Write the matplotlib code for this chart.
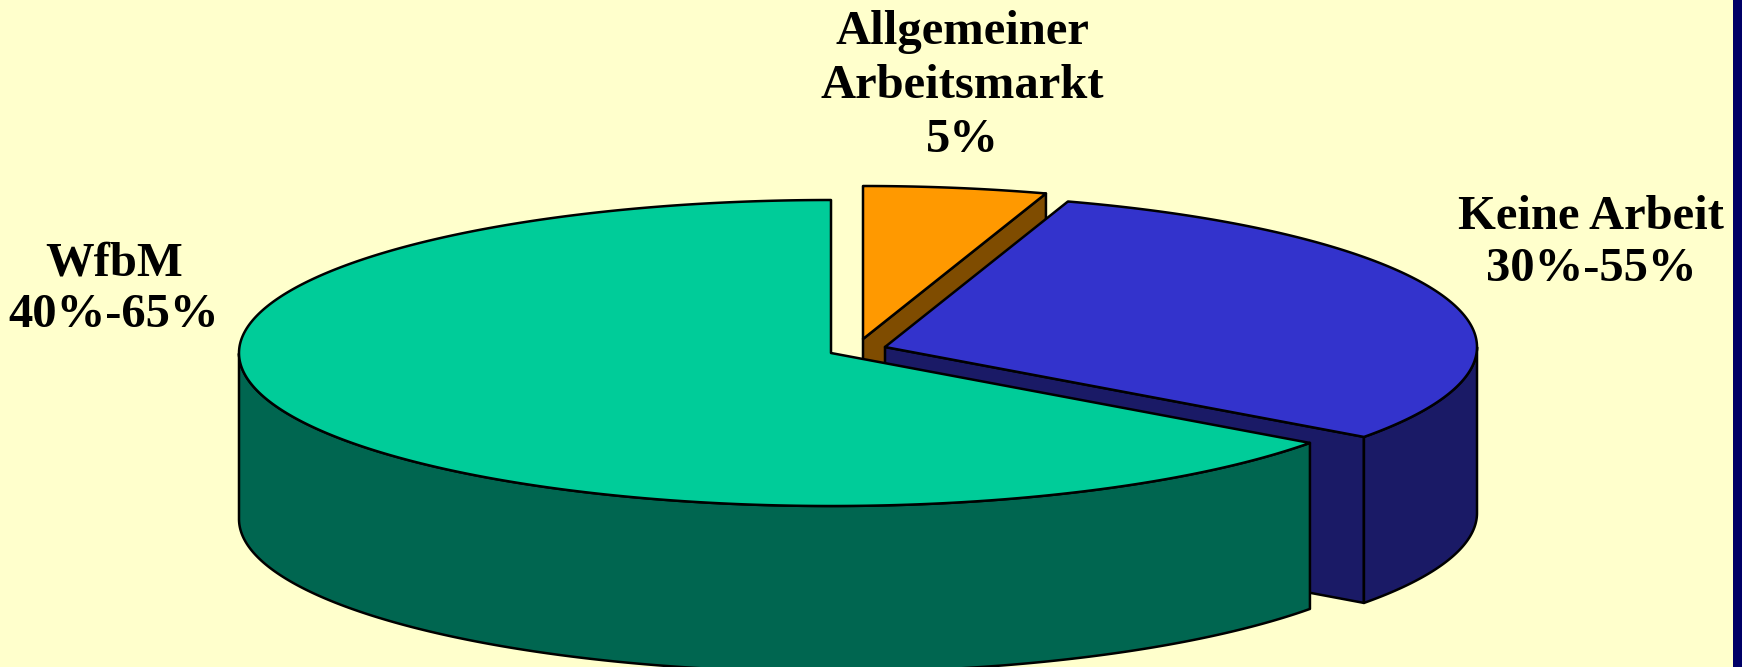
import numpy as np
import matplotlib
matplotlib.use("Agg")
import matplotlib.pyplot as plt
from matplotlib.patches import Polygon, Rectangle

# ---- data ----
labels = ["WfbM\n40%-65%", "Keine Arbeit\n30%-55%", "Allgemeiner\nArbeitsmarkt\n5%"]
shares = [65, 30, 5]          # slice sizes drawn (percent of circle)

# ---- style / layout ----
top_colors = ["#00CC99", "#3333CC", "#FF9900"]
side_colors = ["#006650", "#1A1A66", "#7F4C00"]
explode_px = [(0, 0), (54, -6), (32, -14)]   # screen offset of each slice
label_pos = [(114, 289), (1591, 243), (962, 86)]
label_ls = [1.22, 1.25, 1.3]
start_angle = 90.0
cx, cy = 831, 353
rx, ry = 592, 153
depth = 166
W, H = 1742, 667

fig = plt.figure(figsize=(W / 100, H / 100), dpi=100)
fig.patch.set_facecolor("#FFFFCC")
ax = fig.add_axes([0, 0, 1, 1])
ax.set_xlim(0, W)
ax.set_ylim(H, 0)
ax.axis("off")
ax.set_facecolor("#FFFFCC")

def pt(ox, oy, th):
    t = np.deg2rad(th)
    return (ox + rx * np.cos(t), oy - ry * np.sin(t))

lw = 1.8
ec = "black"
angles = [start_angle]
for s in shares:
    angles.append(angles[-1] + 360.0 * s / sum(shares))

order = sorted(range(len(shares)),
               key=lambda i: -np.sin(np.deg2rad((angles[i] + angles[i + 1]) / 2)))
z = 1
for i in order:
    a0, a1 = angles[i], angles[i + 1]
    ox, oy = cx + explode_px[i][0], cy + explode_px[i][1]
    # front-facing cut faces only
    for a, nrm in ((a0, a0 - 90), (a1, a1 + 90)):
        if np.sin(np.deg2rad(nrm)) < -1e-6:
            p = pt(ox, oy, a)
            quad = [(ox, oy), p, (p[0], p[1] + depth), (ox, oy + depth)]
            ax.add_patch(Polygon(quad, closed=True, fc=side_colors[i], ec=ec,
                                 lw=lw, joinstyle="round", zorder=z))
    z += 1
    # outer wall (front part only)
    th = np.linspace(a0, a1, 800)
    s = np.sin(np.deg2rad(th))
    mask = s <= 1e-9
    if mask.any():
        idx = np.where(mask)[0]
        runs = np.split(idx, np.where(np.diff(idx) != 1)[0] + 1)
        for r in runs:
            tt = th[r]
            topx = ox + rx * np.cos(np.deg2rad(tt))
            topy = oy - ry * np.sin(np.deg2rad(tt))
            poly = np.column_stack([np.r_[topx, topx[::-1]],
                                    np.r_[topy, topy[::-1] + depth]])
            ax.add_patch(Polygon(poly, closed=True, fc=side_colors[i], ec=ec,
                                 lw=lw, joinstyle="round", zorder=z))
    z += 1
    # top face
    tt = np.linspace(a0, a1, 800)
    xs = np.r_[ox, ox + rx * np.cos(np.deg2rad(tt))]
    ys = np.r_[oy, oy - ry * np.sin(np.deg2rad(tt))]
    ax.add_patch(Polygon(np.column_stack([xs, ys]), closed=True,
                         fc=top_colors[i], ec=ec, lw=lw, joinstyle="round", zorder=z))
    z += 1

for lab, (x, y), ls in zip(labels, label_pos, label_ls):
    ax.text(x, y, lab, ha="center", va="center", multialignment="center",
            fontsize=35, fontweight="bold", family="Liberation Serif",
            linespacing=ls, color="black", zorder=50)

# dark strip at right edge
ax.add_patch(Rectangle((1733, 0), W - 1733, H, fc="#000066", ec="none", zorder=60))

fig.savefig("out.png", dpi=100, facecolor=fig.get_facecolor())
